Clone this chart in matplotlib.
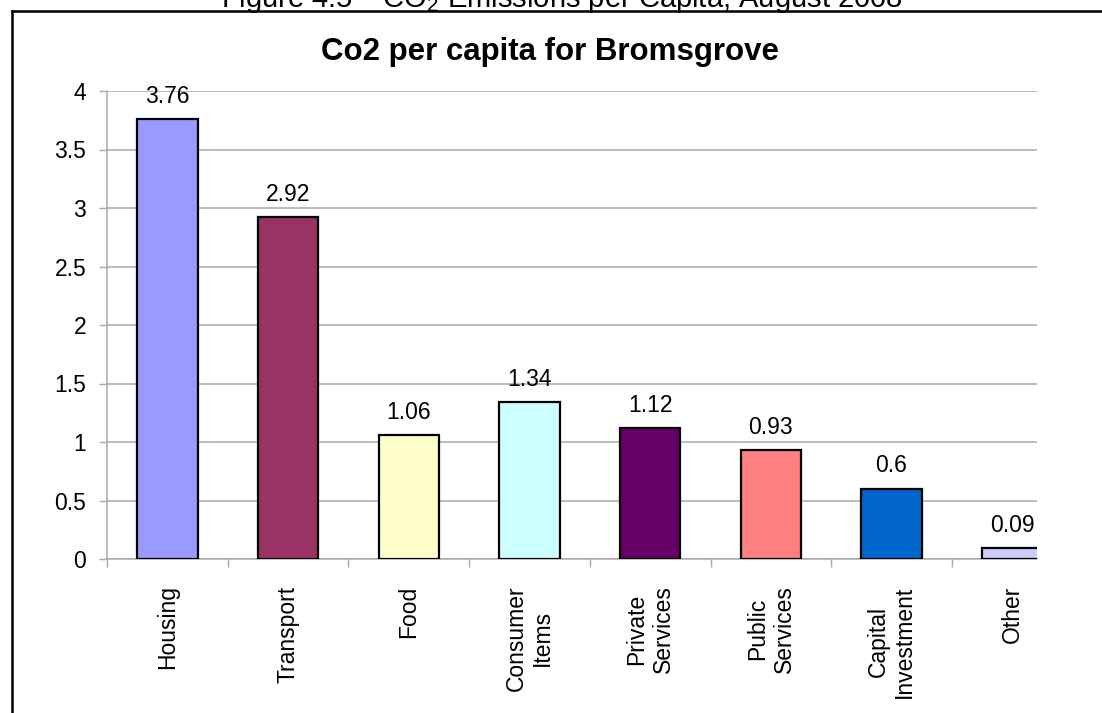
import matplotlib
matplotlib.use("Agg")
import matplotlib.pyplot as plt
from matplotlib.lines import Line2D

plt.rcParams["font.family"] = ["Liberation Sans", "DejaVu Sans"]

# data
categories = ["Housing", "Transport", "Food", "Consumer\nItems", "Private\nServices",
              "Public\nServices", "Capital\nInvestment", "Other"]
values = [3.76, 2.92, 1.06, 1.34, 1.12, 0.93, 0.6, 0.09]
bar_colors = ["#9999FF", "#993366", "#FFFFCC", "#CCFFFF", "#660066",
              "#FF8080", "#0066CC", "#CCCCFF"]
yticks = [0, 0.5, 1, 1.5, 2, 2.5, 3, 3.5, 4]
ytick_labels = ["0", "0.5", "1", "1.5", "2", "2.5", "3", "3.5", "4"]

W, H = 1102, 713
fig = plt.figure(figsize=(W / 100, H / 100), dpi=100)

# plot area in pixel terms (chart is clipped on the right in the source)
left, right, top, bottom = 107, 1037, 91, 559
ax = fig.add_axes([left / W, 1 - bottom / H, (right - left) / W, (bottom - top) / H])

x = list(range(len(categories)))
ax.bar(x, values, width=0.5, color=bar_colors, edgecolor="black", linewidth=1.6, zorder=3)

for xi, v in zip(x, values):
    ax.annotate(f"{v:g}", (xi, v), xytext=(0, 16.5), textcoords="offset points",
                ha="center", va="center", fontsize=16.5, clip_on=False)

ax.set_yticks(yticks, ytick_labels, fontsize=16.5)
ax.yaxis.grid(True, color="#AAAAAA", linewidth=1.1, zorder=0)

# category labels at bar centres, ticks between categories
ax.set_xticks(x, categories, fontsize=16.5, rotation=90, multialignment="center")
ax.tick_params(axis="x", which="major", length=0, pad=19)
ax.set_xticks([i + 0.5 for i in range(-1, len(categories) - 1)], minor=True)
ax.tick_params(axis="x", which="minor", length=6, width=1, color="#AAAAAA", direction="out")
ax.tick_params(axis="y", length=6, width=1, color="#AAAAAA", pad=9, direction="out")

# limits after the ticks so set_xticks does not widen the view
ax.set_ylim(0, 4)
ax.set_xlim(-0.5, -0.5 + (right - left) / 120.7)

for side in ["top", "right"]:
    ax.spines[side].set_visible(False)
for side in ["left", "bottom"]:
    ax.spines[side].set_color("#AAAAAA")
    ax.spines[side].set_linewidth(1.1)

fig.text(550 / W, 1 - 52 / H, "Co2 per capita for Bromsgrove", ha="center", va="center",
         fontsize=22.5, fontweight="bold")

# caption above the chart frame, partly cut off at the top of the image
fig.text(562 / W, 1 - 7 / H, r"Figure 4.5 – CO$_\mathregular{2}$ Emissions per Capita, August 2008",
         ha="center", va="baseline", fontsize=21)

# chart frame
fig.add_artist(Line2D([12 / W, 12 / W], [0, 1 - 11 / H], color="black", linewidth=1.8,
                      transform=fig.transFigure))
fig.add_artist(Line2D([12 / W, 1], [1 - 11 / H, 1 - 11 / H], color="black", linewidth=1.8,
                      transform=fig.transFigure))

fig.savefig("out.png", dpi=100)
